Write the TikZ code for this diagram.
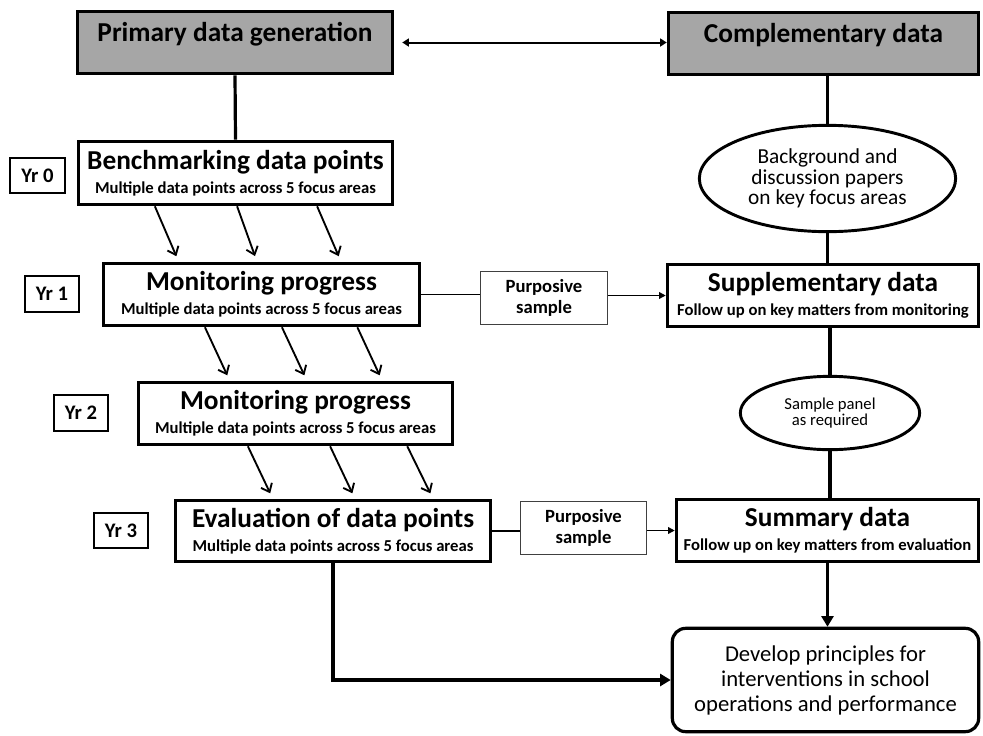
\documentclass[tikz,border=0pt]{standalone}
\usepackage{fontspec}
\setmainfont{Carlito}
\usetikzlibrary{shapes.geometric,arrows.meta,calc}
\newcommand\hdfont{\fontsize{20.5}{22}\selectfont\bfseries}
\newcommand\ttlfont{\fontsize{20.5}{22}\selectfont\bfseries}
\newcommand\subfont{\fontsize{12.5}{14}\selectfont\bfseries}
\begin{document}
\begin{tikzpicture}[x=0.75pt,y=-0.75pt,
  hdbox/.style={draw, line width=2.4pt, fill=hdgray, inner sep=0pt, font=\hdfont,
    text height=14pt, text depth=16.2pt},
  dbox/.style={draw, line width=2.4pt, fill=white, inner sep=0pt, align=center,
    font=\fontsize{12.5}{18}\selectfont},
  yrbox/.style={draw, line width=1.5pt, inner sep=0pt, minimum width=41pt,
    minimum height=26.75pt, font=\fontsize{15.5}{17}\selectfont\bfseries},
  pbox/.style={draw=black!75, line width=0.8pt, inner sep=0pt, align=center,
    minimum width=95pt, minimum height=39.5pt, font=\fontsize{14}{15.75}\selectfont\bfseries},
  ell/.style={draw, ellipse, line width=2.2pt, inner sep=0pt, align=center},
  conn/.style={line width=2.4pt},
  diag/.style={line width=1.4pt, -{Straight Barb[length=5.5pt,width=9pt]}, shorten >=4.5pt},
  thin/.style={line width=1.1pt},
  thinarr/.style={line width=1.1pt, -{Triangle[length=5pt,width=5pt]}},
  bigarr/.style={line width=2.6pt, -{Triangle[length=8pt,width=9pt]}}
]
\definecolor{hdgray}{RGB}{166,166,166}
\useasboundingbox (0,0) rectangle (983,736);

% header boxes
\node[hdbox, minimum width=236.5pt, minimum height=46.75pt] (prim) at (235,42.5) {Primary data generation};
\node[hdbox, minimum width=232.75pt, minimum height=46.75pt] (comp) at (823.5,43.5) {Complementary data};

% left column
\node[dbox, minimum width=235.75pt, minimum height=47.5pt] (bench) at (235.5,173)
  {{\ttlfont Benchmarking data points}\\{\subfont Multiple data points across 5 focus areas}};
\node[dbox, minimum width=237.25pt, minimum height=46.75pt] (mon1) at (261.5,294.5)
  {{\ttlfont Monitoring progress}\\{\subfont Multiple data points across 5 focus areas}};
\node[dbox, minimum width=235.75pt, minimum height=46.75pt] (mon2) at (295.5,413.5)
  {{\ttlfont Monitoring progress}\\{\subfont Multiple data points across 5 focus areas}};
\node[dbox, minimum width=236.5pt, minimum height=46pt] (eval) at (333,531)
  {{\ttlfont Evaluation of data points}\\{\subfont Multiple data points across 5 focus areas}};

% year labels
\node[yrbox] (yr0) at (37.5,175.5) {Yr 0};
\node[yrbox] (yr1) at (52,294) {Yr 1};
\node[yrbox] (yr2) at (81,413) {Yr 2};
\node[yrbox] (yr3) at (121,530.5) {Yr 3};

% purposive samples
\node[pbox] (purp1) at (544,298) {Purposive\\sample};
\node[pbox] (purp2) at (583.5,528) {Purposive\\sample};

% right column
\node[ell, minimum width=192.25pt, minimum height=79.75pt, font=\fontsize{16}{15.5}\selectfont] (ell1) at (827.5,178.5)
  {Background and\\discussion papers\\on key focus areas};
\node[dbox, minimum width=233.5pt, minimum height=46.75pt] (supp) at (823,295.5)
  {{\ttlfont Supplementary data}\\{\subfont Follow up on key matters from monitoring}};
\node[ell, minimum width=134.5pt, minimum height=55pt, font=\fontsize{12.5}{12}\selectfont] (ell2) at (830,413)
  {Sample panel\\as required};
\node[dbox, minimum width=226.75pt, minimum height=46.75pt] (summ) at (827.5,530.5)
  {{\ttlfont Summary data}\\{\subfont Follow up on key matters from evaluation}};
\node[draw, line width=2.4pt, rounded corners=10pt, inner sep=0pt, align=center,
  minimum width=229.75pt, minimum height=77.5pt, font=\fontsize{17}{18.75}\selectfont] (dev) at (825.5,680)
  {Develop principles for\\interventions in school\\operations and performance};

% connectors
\draw[line width=1.5pt, {Triangle[length=5pt,width=6pt]}-{Triangle[length=5pt,width=6pt]}, shorten <=6pt]
  (prim.east) -- (prim.east -| comp.west);
\draw[conn] (prim.south) -- (bench.north);
\draw[conn] (ell1.north |- comp.south) -- (ell1.north);
\draw[conn] (ell1.south) -- (ell1.south |- supp.north);
\draw[conn] (ell2.north |- supp.south) -- (ell2.north);
\draw[conn] (ell2.south) -- (ell2.south |- summ.north);

\foreach \a/\b in {0.246/0.241, 0.505/0.486, 0.757/0.749}
  \draw[diag] ($(bench.south west)!\a!(bench.south east)$) -- ($(mon1.north west)!\b!(mon1.north east)$);
\foreach \a/\b in {0.323/0.293, 0.564/0.536, 0.80/0.773}
  \draw[diag] ($(mon1.south west)!\a!(mon1.south east)$) -- ($(mon2.north west)!\b!(mon2.north east)$);
\foreach \a/\b in {0.35/0.311, 0.609/0.569, 0.852/0.814}
  \draw[diag] ($(mon2.south west)!\a!(mon2.south east)$) -- ($(eval.north west)!\b!(eval.north east)$);

\draw[thin] (mon1.east) -- (mon1.east -| purp1.west);
\draw[thinarr] (purp1.east |- supp.west) -- (supp.west);
\draw[thin] (eval.east) -- (eval.east -| purp2.west);
\draw[thinarr] (purp2.east |- summ.west) -- (summ.west);

\draw[bigarr] (summ.south) -- (summ.south |- dev.north);
\draw[bigarr] (eval.south) |- (dev.west);
\end{tikzpicture}
\end{document}
